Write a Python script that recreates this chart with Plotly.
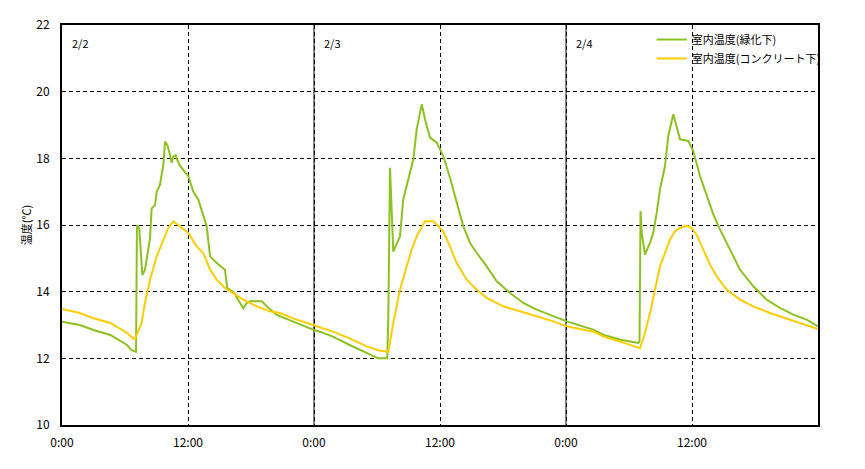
import plotly.graph_objects as go

# hours since 2/2 0:00
green_h = [0.0, 1.7, 3.0, 4.6, 6.2, 6.6, 7.0, 7.05, 7.14, 7.36, 7.65, 7.9, 8.38, 8.54, 8.86, 9.02, 9.33,
           9.65, 9.81, 10.03, 10.29, 10.45, 10.6, 10.83, 10.92, 11.24, 12.03, 12.5, 12.98, 13.46, 13.78,
           14.1, 14.73, 15.52, 15.74, 16.31, 16.79, 17.27, 17.59, 17.9, 19.02, 19.5, 20.45, 22.0, 23.9,
           24.57, 25.8, 27.4, 29.0, 30.12, 30.98, 31.08, 31.24, 31.4, 31.55, 32.19, 32.5, 33.14, 33.46,
           33.78, 34.26, 34.57, 35.05, 35.69, 36.31, 36.95, 37.59, 38.22, 38.86, 39.5, 40.45, 41.4, 42.67,
           43.93, 45.21, 46.79, 48.07, 50.6, 51.6, 53.2, 54.89, 55.0, 55.1, 55.21, 55.52, 56.0, 56.31,
           56.64, 56.95, 57.43, 57.74, 58.22, 58.54, 58.86, 59.65, 60.12, 60.76, 61.4, 62.03, 62.67,
           63.62, 64.57, 65.84, 67.11, 68.38, 69.65, 70.92, 72.0]
green_v = [13.1, 13.0, 12.85, 12.7, 12.4, 12.25, 12.2, 12.2, 16.0, 15.9, 14.5, 14.65, 15.6, 16.5, 16.6, 17.0, 17.2,
           17.8, 18.5, 18.4, 18.1, 17.87, 18.05, 18.1, 18.0, 17.77, 17.47, 17.0, 16.77, 16.26, 15.96,
           15.06, 14.86, 14.66, 14.11, 14.0, 13.76, 13.5, 13.66, 13.71, 13.71, 13.56, 13.3, 13.1, 12.86,
           12.8, 12.65, 12.4, 12.16, 12.0, 12.0, 13.3, 17.72, 16.2, 15.2, 15.66, 16.77, 17.57, 17.97,
           18.87, 19.62, 19.17, 18.62, 18.47, 18.07, 17.42, 16.67, 15.96, 15.46, 15.16, 14.76, 14.31, 13.96,
           13.66, 13.46, 13.26, 13.11, 12.86, 12.7, 12.56, 12.46, 12.5, 16.42, 15.77, 15.11, 15.46, 15.77,
           16.37, 17.07, 17.77, 18.67, 19.32, 18.97, 18.57, 18.52, 18.22, 17.47, 16.87, 16.32, 15.86,
           15.26, 14.66, 14.16, 13.76, 13.51, 13.31, 13.16, 12.96]

yellow_h = [0.0, 1.7, 3.0, 4.6, 6.2, 6.77, 6.95, 7.43, 7.59, 7.9, 8.38, 9.02, 9.65, 10.13, 10.6, 11.24,
            12.03, 12.83, 13.46, 14.1, 14.73, 15.52, 16.31, 17.27, 18.54, 19.81, 20.76, 22.0, 23.9,
            25.8, 27.4, 29.0, 30.29, 31.08, 31.55, 32.19, 32.83, 33.3, 33.78, 34.57, 35.36, 35.84, 36.31,
            36.95, 37.59, 38.54, 39.5, 40.45, 42.03, 43.62, 45.21, 46.79, 48.07,
            50.6, 51.6, 53.2, 55.05, 55.52, 56.0, 56.48, 56.95, 57.43, 57.9, 58.38, 58.86, 59.5, 59.97,
            60.44, 61.08, 61.71, 62.35, 63.3, 64.57, 65.84, 67.43, 69.02, 70.6, 72.0]
yellow_v = [13.48, 13.36, 13.2, 13.06, 12.76, 12.6, 12.58, 12.96, 13.07, 13.67, 14.36, 15.06, 15.56, 15.92, 16.11, 15.96,
            15.76, 15.36, 15.16, 14.66, 14.36, 14.11, 13.96, 13.76, 13.56, 13.41, 13.36, 13.2, 13.0,
            12.8, 12.6, 12.36, 12.23, 12.2, 13.06, 14.06, 14.76, 15.26, 15.66, 16.11, 16.11, 15.96, 15.81,
            15.36, 14.86, 14.36, 14.06, 13.81, 13.56, 13.41, 13.26, 13.11, 12.96,
            12.8, 12.65, 12.5, 12.3, 12.76, 13.36, 14.06, 14.76, 15.16, 15.56, 15.81, 15.91, 15.98, 15.91,
            15.71, 15.26, 14.81, 14.46, 14.06, 13.76, 13.56, 13.36, 13.2, 13.04, 12.88]

series_names = ["室内温度(緑化下)", "室内温度(コンクリート下)"]
x_tickvals = [0, 12, 24, 36, 48, 60]
x_ticktext = ["0:00", "12:00", "0:00", "12:00", "0:00", "12:00"]
day_starts = [0, 24, 48]
day_labels = ["2/2", "2/3", "2/4"]
y_title = "温度(℃)"

FONT = "Noto Sans CJK JP"

fig = go.Figure()
fig.add_trace(go.Scatter(x=green_h, y=green_v, mode="lines", name=series_names[0],
                         line=dict(color="#8CC21F", width=2)))
fig.add_trace(go.Scatter(x=yellow_h, y=yellow_v, mode="lines", name=series_names[1],
                         line=dict(color="#FFCC00", width=2)))

for d in day_starts[1:]:
    fig.add_shape(type="line", xref="x", yref="paper", x0=d, x1=d, y0=0, y1=1,
                  line=dict(color="black", width=1), layer="below")

for d, lab in zip(day_starts, day_labels):
    fig.add_annotation(x=d, y=1, xref="x", yref="paper", text=lab, showarrow=False,
                       xanchor="left", yanchor="top", xshift=8, yshift=-8,
                       font=dict(family=FONT, size=11, color="black"))

fig.update_layout(
    width=857, height=461,
    margin=dict(l=54, r=47, t=17, b=44),
    paper_bgcolor="white", plot_bgcolor="white",
    font=dict(family=FONT, size=12, color="black"),
    showlegend=True,
    legend=dict(x=0.78, y=1.0, xanchor="left", yanchor="top", bgcolor="rgba(255,255,255,0)",
                font=dict(family=FONT, size=11), tracegroupgap=0, itemwidth=30),
)
fig.update_xaxes(range=[0, 72], tickvals=x_tickvals, ticktext=x_ticktext,
                 showgrid=True, gridcolor="black", gridwidth=1, griddash="4px,3px",
                 showline=True, linecolor="black", linewidth=2, mirror=True,
                 ticks="", ticklabelstandoff=6, zeroline=False, automargin=False,
                 tickfont=dict(family=FONT, size=12))
fig.update_yaxes(range=[10, 22], dtick=2, tick0=10,
                 showgrid=True, gridcolor="black", gridwidth=1, griddash="4px,3px",
                 showline=True, linecolor="black", linewidth=2, mirror=True,
                 ticks="", ticklabelstandoff=8, zeroline=False, automargin=False,
                 tickfont=dict(family=FONT, size=12),
                 title=dict(text=y_title, font=dict(family=FONT, size=11), standoff=2))

fig.write_html("out.html")
